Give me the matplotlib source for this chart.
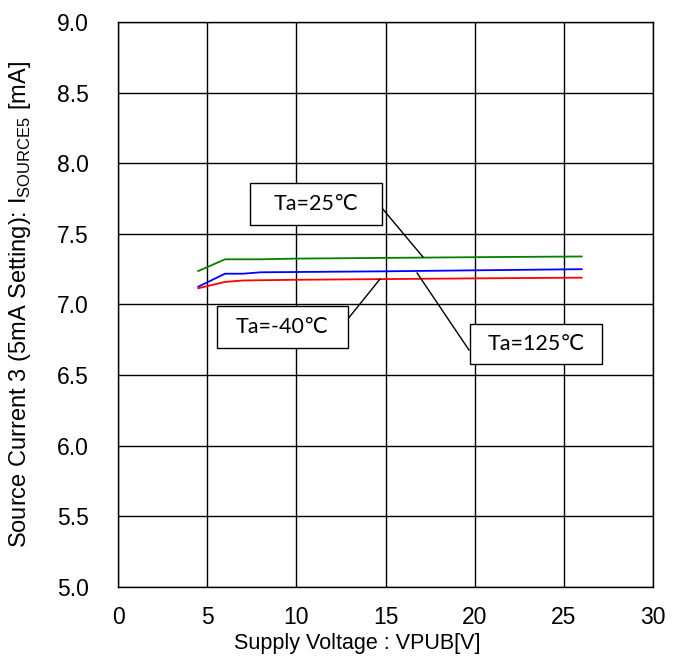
import matplotlib
matplotlib.use("Agg")
import matplotlib.pyplot as plt
from matplotlib.patches import Rectangle

plt.rcParams["font.family"] = ["Liberation Sans", "DejaVu Sans"]

# data
vpub = [4.5, 6, 7, 8, 10, 15, 20, 26]
i_m40 = [7.115, 7.16, 7.17, 7.172, 7.175, 7.18, 7.185, 7.19]
i_25 = [7.237, 7.32, 7.32, 7.32, 7.325, 7.33, 7.335, 7.34]
i_125 = [7.126, 7.218, 7.218, 7.228, 7.23, 7.235, 7.242, 7.25]

labels = ["Ta=25\u2103", "Ta=-40\u2103", "Ta=125\u2103"]
# boxes: (x0, y0, width, height) in data units, leader start/end
boxes = [(7.40, 7.563, 7.40, 0.297), (5.55, 6.69, 7.35, 0.30), (19.74, 6.579, 7.40, 0.283)]
leaders = [((14.80, 7.683), (17.10, 7.336)),
           ((12.84, 6.89), (14.69, 7.18)),
           ((19.68, 6.678), (16.77, 7.223))]

fig = plt.figure(figsize=(6.83, 6.71), dpi=100)
ax = fig.add_axes([0.1728, 0.1252, 0.7833, 0.842])

ax.plot(vpub, i_25, color="green", lw=1.3)
ax.plot(vpub, i_125, color="blue", lw=1.3)
ax.plot(vpub, i_m40, color="red", lw=1.3)

ax.set_xlim(0, 30)
ax.set_ylim(5.0, 9.0)
ax.set_xticks(range(0, 31, 5))
ax.set_yticks([5.0 + 0.5 * k for k in range(9)])
ax.yaxis.set_major_formatter(matplotlib.ticker.FormatStrFormatter("%.1f"))
ax.grid(True, color="black", lw=1.0)
ax.tick_params(length=0, labelsize=16.5)
ax.tick_params(axis="x", pad=13.5)
ax.tick_params(axis="y", pad=21)
for s in ax.spines.values():
    s.set_color("black")
    s.set_linewidth(1.0)

ax.set_xlabel("Supply Voltage : VPUB[V]", fontsize=15.5)
ax.set_ylabel("Source Current 3 (5mA Setting): I$_{\\mathregular{SOURCE5}}$ [mA]",
              fontsize=17)
ax.xaxis.set_label_coords(0.447, -0.082)
ax.yaxis.set_label_coords(-0.159, 0.5)

for lab, (x0, y0, w, h), (p0, p1) in zip(labels, boxes, leaders):
    ax.plot([p0[0], p1[0]], [p0[1], p1[1]], color="black", lw=1.0, zorder=4)
    ax.add_patch(Rectangle((x0, y0), w, h, facecolor="white", edgecolor="black",
                           lw=1.0, zorder=5))
    ax.text(x0 + w / 2, y0 + h / 2, lab, ha="center", va="center", fontsize=15.5,
            family=["Lato", "DejaVu Sans"], zorder=6)

fig.savefig("out.png", dpi=100)
